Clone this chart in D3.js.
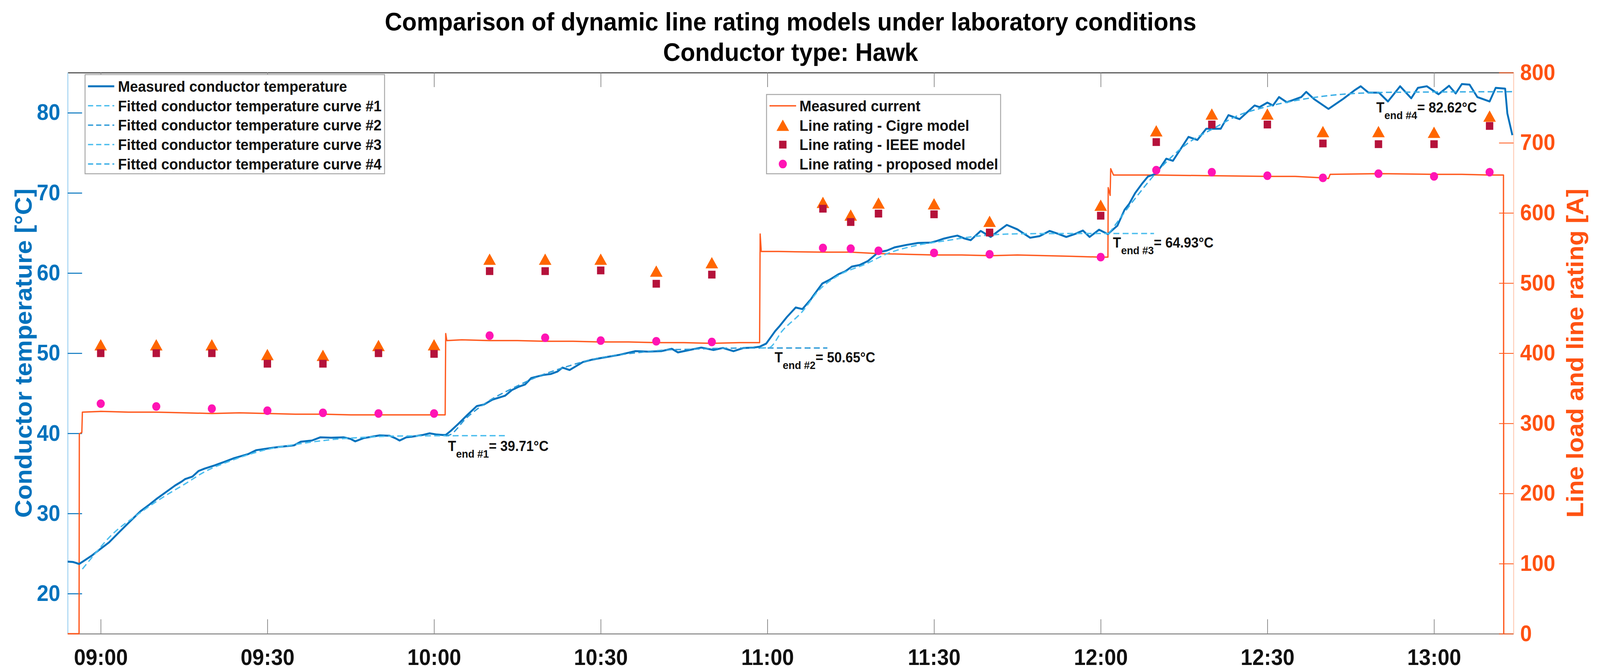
<!DOCTYPE html>
<meta charset="utf-8">
<title>Dynamic line rating models - Hawk</title>
<style>
    html,
    body {
        margin: 0;
        padding: 0;
        overflow: hidden;
        background: #fff;
    }

    svg {
        display: block;
        width: 100vw;
        height: 100vh;
        font-family: "Liberation Sans", Arial, sans-serif;
        font-weight: bold;
    }

    .measured {
        fill: none;
        stroke: #0072bd;
        stroke-width: 5px;
        stroke-linejoin: round;
    }

    .fitted {
        fill: none;
        stroke-width: 3.5px;
        stroke-dasharray: 16 9;
    }

    .current {
        fill: none;
        stroke: #ff5a1f;
        stroke-width: 3.5px;
        stroke-linejoin: round;
    }

    .legend-box {
        fill: #fff;
        stroke: #a6a6a6;
        stroke-width: 2.5px;
    }
</style>

<body>
    <svg id="chart"></svg>
</body>

<script src="https://d3js.org/d3.v7.min.js"></script>
<script>
    // all times are minutes after 09:00
    var xTicks = [0, 30, 60, 90, 120, 150, 180, 210, 240];
    var xTickLabels = ["09:00", "09:30", "10:00", "10:30", "11:00", "11:30", "12:00", "12:30", "13:00"];
    var tempTicks = [20, 30, 40, 50, 60, 70, 80];
    var currentTicks = [0, 100, 200, 300, 400, 500, 600, 700, 800];

    var measuredTemp = [
        [-5.95, 24.0], [-5, 23.95], [-4.5, 23.85], [-3.9, 23.7], [-3.0, 24.1], [-1.5, 24.8], [-0.3, 25.45],
        [1.5, 26.4], [3.5, 27.8], [5.7, 29.3], [7.2, 30.3], [8.65, 31.05], [10.2, 31.9], [11.6, 32.6],
        [13.4, 33.5], [14.6, 34.0], [15.2, 34.3], [16.5, 34.6], [17.6, 35.3], [18.7, 35.6], [20.5, 36.0],
        [22.3, 36.45], [24.0, 36.9], [26.5, 37.4], [28.0, 37.9], [30.0, 38.1], [32.0, 38.3], [34.8, 38.5],
        [36.0, 38.95], [38.0, 39.1], [39.5, 39.5], [41.5, 39.45], [43.7, 39.5], [45.0, 39.3], [45.8, 39.0],
        [47.3, 39.4], [49.0, 39.6], [50.2, 39.75], [52.0, 39.7], [53.0, 39.4], [53.8, 39.1], [55.0, 39.5],
        [56.2, 39.6], [58.0, 39.8], [59.2, 40.0], [60.5, 39.85], [61.6, 39.8], [62.1, 39.8],
        [63.0, 40.3], [64.4, 41.2], [66.0, 42.3], [67.7, 43.4], [69.0, 43.6], [70.5, 44.2], [72.8, 44.7],
        [74.0, 45.4], [75.2, 45.8], [76.4, 46.1], [77.5, 46.9], [79.8, 47.3], [81.0, 47.4], [82.2, 47.7],
        [83.1, 48.2], [84.4, 47.9], [86.8, 48.9], [88.5, 49.2], [90.1, 49.4], [93.4, 49.8], [96.2, 50.25],
        [98.5, 50.2], [100.9, 50.25], [102.8, 50.55], [103.9, 50.1], [106.0, 50.4], [108.1, 50.7],
        [110.3, 50.4], [112.0, 50.65], [113.9, 50.25], [115.7, 50.65], [117.5, 50.7], [118.6, 50.8],
        [119.8, 51.2], [121.4, 52.75], [122.1, 53.3], [123.5, 54.5], [125.1, 55.7], [126.3, 55.5],
        [127.8, 56.7], [128.3, 57.2], [129.9, 58.7], [131.3, 59.2], [132.8, 59.85], [134.0, 60.2],
        [135.2, 60.8], [136.6, 61.0], [138.1, 61.5], [140.0, 62.6], [141.5, 62.8], [142.9, 63.2],
        [145.0, 63.5], [147.1, 63.75], [149.5, 63.8], [150.5, 64.0], [151.8, 64.3], [153.0, 64.5],
        [154.2, 64.67], [155.5, 64.3], [156.6, 64.1], [158.4, 65.25], [160.2, 64.5], [161.5, 65.2],
        [163.1, 66.0], [165.0, 65.45], [167.3, 64.4], [169.0, 64.6], [170.8, 65.25], [172.3, 64.9],
        [173.8, 64.5], [175.5, 64.9], [176.8, 65.3], [178.0, 64.5], [179.7, 65.4], [181.3, 64.85],
        [182.0, 65.3], [183.0, 65.9], [184.3, 67.9], [185.1, 68.6], [186.2, 69.97], [187.5, 71.2],
        [188.5, 72.04], [190.0, 72.4], [191.8, 74.26], [193.0, 74.0], [195.8, 76.98], [197.4, 76.6],
        [199.0, 78.0], [201.6, 78.0], [203.0, 79.7], [205.0, 79.2], [207.7, 80.9], [208.6, 80.7],
        [210.0, 81.26], [211.0, 80.9], [212.1, 81.95], [213.5, 81.3], [216.1, 81.95], [217.0, 82.6],
        [218.4, 81.7], [221.0, 80.47], [223.6, 81.7], [225.7, 82.8], [226.8, 83.3], [228.2, 82.5],
        [230.1, 82.5], [231.7, 81.4], [233.9, 83.3], [235.9, 81.8], [237.1, 83.1], [238.7, 83.3],
        [240.8, 82.3], [242.7, 83.36], [243.9, 82.4], [245.0, 83.57], [246.4, 83.5], [247.8, 81.95],
        [250.0, 81.4], [251.1, 83.1], [252.8, 83.0], [253.2, 79.9], [254.1, 77.2]
    ];

    var fittedCurve1 = [
        [-3.3, 23.07], [-1.0, 25.0], [1.5, 27.0], [6.9, 30.0], [11.6, 32.2], [15.2, 33.7], [18.7, 35.2],
        [23.5, 36.6], [29.4, 37.9], [35.4, 38.65], [41.3, 39.2], [47.3, 39.5], [53.2, 39.66], [62.1, 39.7],
        [72.8, 39.71]
    ];
    var fittedCurve2 = [
        [62.1, 39.7], [62.8, 39.8], [65.8, 41.9], [70.0, 44.1], [73.8, 45.5], [78.4, 47.0], [83.1, 48.15],
        [87.8, 49.1], [92.4, 49.7], [97.1, 50.1], [101.8, 50.4], [106.5, 50.5], [111.1, 50.6], [118.7, 50.65],
        [130.8, 50.65]
    ];
    var fittedCurve3 = [
        [118.7, 50.65], [120.3, 50.7], [122.7, 52.8], [126.3, 55.2], [129.2, 57.8], [132.8, 59.7],
        [137.6, 61.1], [141.7, 62.45], [146.5, 63.4], [151.8, 64.0], [157.8, 64.6], [163.7, 64.87],
        [170.0, 64.92], [181.3, 64.93], [189.6, 64.93]
    ];
    var fittedCurve4 = [
        [181.5, 64.93], [186.2, 69.3], [190.9, 73.2], [195.5, 76.1], [200.2, 78.0], [204.9, 79.7],
        [209.6, 80.7], [214.2, 81.4], [218.9, 81.95], [223.5, 82.3], [232.9, 82.55], [254.3, 82.62]
    ];

    var measuredCurrent = [
        [-5.95, 0], [-3.9, 0], [-3.85, 285], [-3.4, 287], [-3.3, 316], [0, 317], [5, 316], [10, 316],
        [15, 315], [20, 314], [25, 315], [30, 314], [35, 313], [40, 313], [45, 312], [50, 312], [55, 312],
        [60, 312], [62.0, 312], [62.1, 428], [62.3, 418], [65, 419], [70, 418], [75, 418], [80, 417],
        [85, 417], [90, 416], [95, 416], [100, 415], [105, 415], [110, 414], [115, 415], [118.6, 415],
        [118.7, 570], [118.9, 545], [122, 545], [130, 544], [135, 544], [140, 542], [145, 541], [150, 540],
        [155, 540], [160, 539], [165, 540], [170, 539], [175, 538], [179.8, 537], [181.3, 537],
        [181.35, 636], [181.7, 625], [181.8, 663], [182.3, 654], [190, 654], [200, 653], [210, 652],
        [215, 652], [220, 650], [221, 649], [221.3, 655], [230, 656], [240, 655], [245, 655], [250, 654],
        [252.5, 654], [252.55, 0]
    ];

    var ratingTimes = [0, 10, 20, 30, 40, 50, 60, 70, 80, 90, 100, 110, 130, 135, 140, 150, 160, 180,
        190, 200, 210, 220, 230, 240, 250];
    var cigreRating = [412, 412, 412, 398, 397, 411, 412, 534, 534, 534, 517, 529, 615, 597, 614, 613, 588, 611,
        717, 741, 741, 716, 716, 715, 738];
    var ieeeRating = [400, 400, 400, 385, 385, 400, 399, 517, 517, 518, 499, 512, 606, 587, 599, 598, 572, 596,
        701, 726, 726, 699, 698, 698, 724];
    var proposedRating = [328, 324, 321, 318, 315, 314, 314, 425, 422, 418, 417, 416, 550, 549, 546, 543, 541, 537,
        661, 658, 653, 650, 656, 652, 658];

    var tEndNames = ["#1", "#2", "#3", "#4"];
    var tEndValues = ["39.71", "50.65", "64.93", "82.62"];
    var tEndLabelTimes = [62.5, 121.3, 182.2, 229.6];
    var tEndLabelTemps = [37.81, 48.86, 63.16, 80.05];

    var tempLegend = ["Measured conductor temperature", "Fitted conductor temperature curve #1",
        "Fitted conductor temperature curve #2", "Fitted conductor temperature curve #3",
        "Fitted conductor temperature curve #4"];
    var currentLegend = ["Measured current", "Line rating - Cigre model", "Line rating - IEEE model",
        "Line rating - proposed model"];

    // ---------------------------------------------------------------
    var width = 4327, height = 1721;
    var plot = { left: 183, right: 4093, top: 186, bottom: 1623 };
    var blue = "#0072bd", orange = "#ff5212";
    var fittedColors = ["#4dbeee", "#2f9bd8", "#4dbeee", "#3aaee6"];
    var cigreColor = "#ff6600", ieeeColor = "#b5123b", proposedColor = "#ff14b4";

    var base = new Date(2020, 0, 1, 9, 0, 0);
    function toDate(m) {
        return new Date(base.getTime() + m * 60000);
    }

    // the window can be narrower than the figure, so stretch the figure to fill it
    var svg = d3.select("#chart")
        .attr("viewBox", "0 0 " + width + " " + height)
        .attr("preserveAspectRatio", "none");

    var x = d3.scaleTime()
        .domain([toDate(-5.95), toDate(254.3)])
        .range([plot.left, plot.right]);
    var yTemp = d3.scaleLinear().domain([15, 85]).range([plot.bottom, plot.top]);
    var yCurrent = d3.scaleLinear().domain([0, 800]).range([plot.bottom, plot.top]);

    // title
    svg.append("text")
        .attr("x", (plot.left + plot.right) / 2)
        .attr("y", 78)
        .attr("text-anchor", "middle")
        .attr("font-size", 65)
        .text("Comparison of dynamic line rating models under laboratory conditions");
    svg.append("text")
        .attr("x", (plot.left + plot.right) / 2)
        .attr("y", 156)
        .attr("text-anchor", "middle")
        .attr("font-size", 65)
        .text("Conductor type: Hawk");

    function styleAxis(g, color, domainColor) {
        g.attr("font-family", null).attr("font-size", 57);
        g.select(".domain").attr("stroke", domainColor).attr("stroke-width", 2.5);
        g.selectAll(".tick line").attr("stroke", color).attr("stroke-width", 2.5);
        g.selectAll(".tick text").attr("fill", color);
    }

    // bottom / top axes
    var xBottom = svg.append("g")
        .attr("transform", "translate(0," + plot.bottom + ")")
        .call(d3.axisBottom(x)
            .tickValues(xTicks.map(toDate))
            .tickFormat((d, i) => xTickLabels[i])
            .tickSizeInner(-37).tickSizeOuter(0).tickPadding(40));
    styleAxis(xBottom, "#111", "#808080");
    xBottom.selectAll(".tick line").attr("stroke", "#8a8a8a").attr("stroke-width", 2);

    var xTop = svg.append("g")
        .attr("transform", "translate(0," + plot.top + ")")
        .call(d3.axisTop(x)
            .tickValues(xTicks.map(toDate))
            .tickFormat("")
            .tickSizeInner(-37).tickSizeOuter(0));
    styleAxis(xTop, "#8a8a8a", "#3a3a3a");
    xTop.selectAll(".tick line").attr("stroke-width", 2);

    var yLeft = svg.append("g")
        .attr("transform", "translate(" + plot.left + ",0)")
        .call(d3.axisLeft(yTemp).tickValues(tempTicks).tickSizeInner(-39).tickSizeOuter(0).tickPadding(20));
    styleAxis(yLeft, blue, "#9fd2f2");

    var yRight = svg.append("g")
        .attr("transform", "translate(" + plot.right + ",0)")
        .call(d3.axisRight(yCurrent).tickValues(currentTicks).tickSizeInner(-39).tickSizeOuter(0).tickPadding(18));
    styleAxis(yRight, orange, "#ffcbb5");
    yRight.selectAll(".tick line").attr("stroke-width", 2);

    // axis titles
    svg.append("text")
        .attr("transform", "translate(86," + (plot.top + plot.bottom) / 2 + ") rotate(-90)")
        .attr("text-anchor", "middle")
        .attr("font-size", 64)
        .attr("fill", blue)
        .text("Conductor temperature [°C]");
    svg.append("text")
        .attr("transform", "translate(4282," + (plot.top + plot.bottom) / 2 + ") rotate(-90)")
        .attr("text-anchor", "middle")
        .attr("font-size", 64)
        .attr("fill", orange)
        .text("Line load and line rating [A]");

    // lines
    var currentLine = d3.line()
        .x(d => x(toDate(d[0])))
        .y(d => yCurrent(d[1]));
    var tempLine = d3.line()
        .x(d => x(toDate(d[0])))
        .y(d => yTemp(d[1]));
    var fittedLine = d3.line()
        .curve(d3.curveMonotoneX)
        .x(d => x(toDate(d[0])))
        .y(d => yTemp(d[1]));

    svg.append("path")
        .datum(measuredCurrent)
        .attr("class", "current")
        .attr("d", currentLine);

    var fitted = [fittedCurve1, fittedCurve2, fittedCurve3, fittedCurve4];
    svg.append("path")
        .datum(measuredTemp)
        .attr("class", "measured")
        .attr("d", tempLine);
    fitted.forEach(function (curve, i) {
        svg.append("path")
            .datum(curve)
            .attr("class", "fitted")
            .attr("stroke", fittedColors[i])
            .attr("d", fittedLine);
    });

    // rating markers
    var triangle = "M0,-14.5L17,14.5L-17,14.5Z";
    var ratings = ratingTimes.map((t, i) => ({
        t: t, cigre: cigreRating[i], ieee: ieeeRating[i], proposed: proposedRating[i]
    }));

    svg.append("g").selectAll("path")
        .data(ratings)
        .join("path")
        .attr("transform", d => "translate(" + x(toDate(d.t)) + "," + yCurrent(d.cigre) + ")")
        .attr("d", triangle)
        .attr("fill", cigreColor);
    svg.append("g").selectAll("rect")
        .data(ratings)
        .join("rect")
        .attr("x", d => x(toDate(d.t)) - 10)
        .attr("y", d => yCurrent(d.ieee) - 10)
        .attr("width", 20)
        .attr("height", 20)
        .attr("fill", ieeeColor);
    svg.append("g").selectAll("circle")
        .data(ratings)
        .join("circle")
        .attr("cx", d => x(toDate(d.t)))
        .attr("cy", d => yCurrent(d.proposed))
        .attr("r", 11)
        .attr("fill", proposedColor);

    // T_end annotations
    tEndNames.forEach(function (name, i) {
        var t = svg.append("text")
            .attr("x", x(toDate(tEndLabelTimes[i])))
            .attr("y", yTemp(tEndLabelTemps[i]))
            .attr("font-size", 36)
            .attr("fill", "#111");
        t.append("tspan").text("T");
        t.append("tspan").attr("dy", 17).attr("font-size", 28).text("end " + name);
        t.append("tspan").attr("dy", -17).text("= " + tEndValues[i] + "°C");
    });

    // temperature legend
    var leg1 = svg.append("g");
    leg1.append("rect")
        .attr("class", "legend-box")
        .attr("x", 230).attr("y", 191)
        .attr("width", 810).attr("height", 254);
    tempLegend.forEach(function (label, i) {
        var cy = 221 + i * 49.75;
        leg1.append("line")
            .attr("x1", 238).attr("x2", 309)
            .attr("y1", cy).attr("y2", cy)
            .attr("stroke", i == 0 ? blue : fittedColors[i - 1])
            .attr("stroke-width", i == 0 ? 5 : 3.5)
            .attr("stroke-dasharray", i == 0 ? null : "14 8");
        leg1.append("text")
            .attr("x", 319).attr("y", cy + 14)
            .attr("font-size", 39)
            .attr("fill", "#111")
            .text(label);
    });

    // current legend
    var leg2 = svg.append("g");
    leg2.append("rect")
        .attr("class", "legend-box")
        .attr("x", 2073).attr("y", 242)
        .attr("width", 633).attr("height", 203);
    currentLegend.forEach(function (label, i) {
        var cy = 271 + i * 49.7;
        if (i == 0) {
            leg2.append("line")
                .attr("x1", 2081).attr("x2", 2153)
                .attr("y1", cy).attr("y2", cy)
                .attr("stroke", "#ff5a1f")
                .attr("stroke-width", 3.5);
        } else if (i == 1) {
            leg2.append("path")
                .attr("transform", "translate(2117," + cy + ")")
                .attr("d", triangle)
                .attr("fill", cigreColor);
        } else if (i == 2) {
            leg2.append("rect")
                .attr("x", 2107).attr("y", cy - 10)
                .attr("width", 20).attr("height", 20)
                .attr("fill", ieeeColor);
        } else {
            leg2.append("circle")
                .attr("cx", 2117).attr("cy", cy)
                .attr("r", 11)
                .attr("fill", proposedColor);
        }
        leg2.append("text")
            .attr("x", 2162).attr("y", cy + 14)
            .attr("font-size", 39)
            .attr("fill", "#111")
            .text(label);
    });
</script>
